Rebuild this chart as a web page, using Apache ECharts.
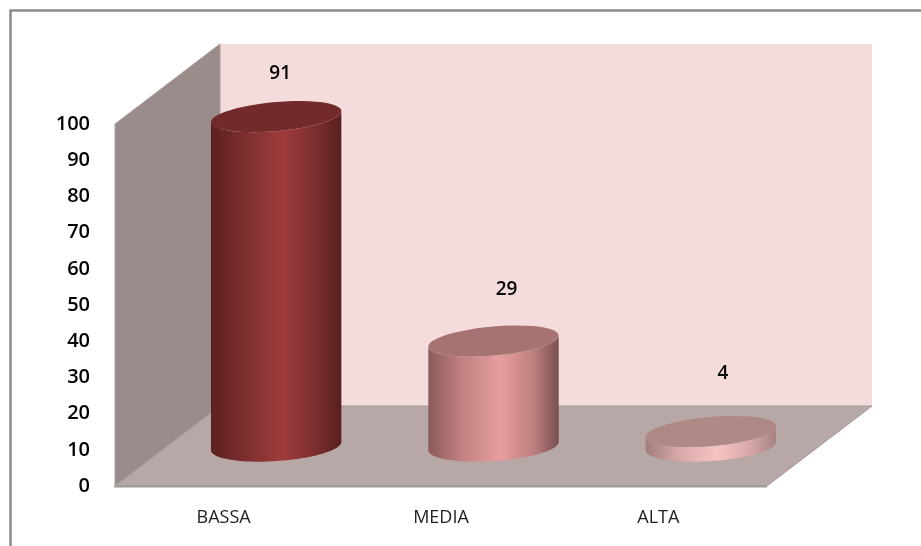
<!DOCTYPE html>
<html>
<head>
<meta charset="utf-8">
<style>
  html, body { margin: 0; padding: 0; background: #fff; }
  #chart { width: 921px; height: 546px; }
</style>
</head>
<body>
<div id="chart"></div>
<script src="https://cdn.jsdelivr.net/npm/echarts@6/dist/echarts.min.js"></script>
<script>
// dati
const categories = ['BASSA', 'MEDIA', 'ALTA']
const values = [91, 29, 4]
const yTicks = { min: 0, max: 100, interval: 10 }

// colori dei cilindri: bordo sx, chiaro, centro, bordo dx, faccia superiore
const sideColors = [
  ['#5c2020', '#7c2e2e', '#9f3b3b', '#591f1f', '#722a2a'],
  ['#8a5a5a', '#c08080', '#e89e9e', '#7a5050', '#a67372'],
  ['#a07c7c', '#d8a8a8', '#f6c2c2', '#a58282', '#ae8986']
]
// spostamento a mano delle etichette, come nell'originale
const labelNudge = [[4, -43], [13, -51], [12, -58]]

const depthX = 105
const depthY = 80

const font = '"Open Sans", "Noto Sans", sans-serif'

// ellisse inclinata (lato destro piu' alto), da t0 a t1 in radianti
function ellipsePoints(cx, cy, a, b, shear, t0, t1) {
  const pts = []
  const n = 48
  for (let i = 0; i <= n; i++) {
    const t = t0 + (t1 - t0) * i / n
    pts.push([cx + a * Math.cos(t), cy + b * Math.sin(t) - shear * Math.cos(t)])
  }
  return pts
}

// pareti e pavimento
function renderWalls(params, api) {
  const x0 = params.coordSys.x
  const x1 = x0 + params.coordSys.width
  const yBottom = api.coord([0, yTicks.min])[1]
  const yTop = api.coord([0, yTicks.max])[1]
  const edge = '#a29a9a'
  return {
    type: 'group',
    children: [
      {
        type: 'polygon',
        shape: { points: [[x0 + depthX, yTop - depthY], [x1 + depthX, yTop - depthY], [x1 + depthX, yBottom - depthY], [x0 + depthX, yBottom - depthY]] },
        style: { fill: '#f4dcdc' }
      },
      {
        type: 'polygon',
        shape: { points: [[x0, yTop], [x0 + depthX, yTop - depthY], [x0 + depthX, yBottom - depthY], [x0, yBottom]] },
        style: { fill: '#9a8c8b', stroke: '#a8a0a0', lineWidth: 1 }
      },
      {
        type: 'polygon',
        shape: { points: [[x0, yBottom], [x0 + depthX, yBottom - depthY], [x1 + depthX, yBottom - depthY], [x1, yBottom]] },
        style: { fill: '#b7a7a7', stroke: edge, lineWidth: 1 }
      },
      {
        type: 'line',
        shape: { x1: x0 - 1, y1: yBottom + 0.5, x2: x1, y2: yBottom + 0.5 },
        style: { stroke: '#9c9c9c', lineWidth: 2 }
      }
    ]
  }
}

// un cilindro per categoria
function renderCylinder(params, api) {
  const i = params.dataIndex
  const top = api.coord([api.value(0), api.value(1)])
  const base = api.coord([api.value(0), yTicks.min])
  const a = api.size([1, 0])[0] * 0.3
  const cx = top[0] + depthX / 2
  const yTop = top[1] - depthY / 2
  const yBase = base[1] - depthY / 2
  const c = sideColors[i]

  const topEdge = ellipsePoints(cx, yTop, a, 14.6, 5.5, Math.PI, 0)
  const baseEdge = ellipsePoints(cx, yBase, a, 15.1, 4.2, 0, Math.PI)

  return {
    type: 'group',
    children: [
      {
        type: 'polygon',
        shape: { points: topEdge.concat(baseEdge) },
        style: {
          fill: new echarts.graphic.LinearGradient(0, 0, 1, 0, [
            { offset: 0, color: c[0] },
            { offset: 0.25, color: c[1] },
            { offset: 0.55, color: c[2] },
            { offset: 0.8, color: c[1] },
            { offset: 1, color: c[3] }
          ])
        }
      },
      {
        type: 'polygon',
        shape: { points: ellipsePoints(cx, yTop, a, 14.6, 5.5, 0, Math.PI * 2) },
        style: { fill: c[4] }
      },
      {
        type: 'text',
        style: {
          text: String(api.value(1)),
          x: cx + labelNudge[i][0],
          y: yTop + labelNudge[i][1],
          align: 'center',
          verticalAlign: 'middle',
          font: '600 19px ' + font,
          fill: '#000'
        }
      }
    ]
  }
}

const chart = echarts.init(document.getElementById('chart'), null, { renderer: 'canvas' })
chart.setOption({
  animation: false,
  backgroundColor: '#fff',
  graphic: [{
    type: 'polyline',
    shape: { points: [[10.5, 546], [10.5, 10.5], [921, 10.5]] },
    style: { stroke: '#8c8c8c', lineWidth: 2.5, fill: null }
  }],
  grid: { left: 115, right: 154, top: 124, bottom: 60 },
  xAxis: {
    type: 'category',
    data: categories,
    axisLine: { show: false },
    axisTick: { show: false },
    axisLabel: { margin: 23, color: '#222', fontFamily: font, fontSize: 18 }
  },
  yAxis: {
    type: 'value',
    min: yTicks.min,
    max: yTicks.max,
    interval: yTicks.interval,
    splitLine: { show: false },
    axisLine: { show: false },
    axisTick: { show: false },
    axisLabel: { margin: 25, color: '#000', fontFamily: font, fontWeight: 600, fontSize: 20 }
  },
  series: [
    { type: 'custom', renderItem: renderWalls, data: [[0, 0]], clip: false, z: 1, silent: true },
    {
      type: 'custom',
      renderItem: renderCylinder,
      data: categories.map((c, i) => [i, values[i]]),
      encode: { x: 0, y: 1 },
      clip: false,
      z: 2
    }
  ]
})
</script>
</body>
</html>
